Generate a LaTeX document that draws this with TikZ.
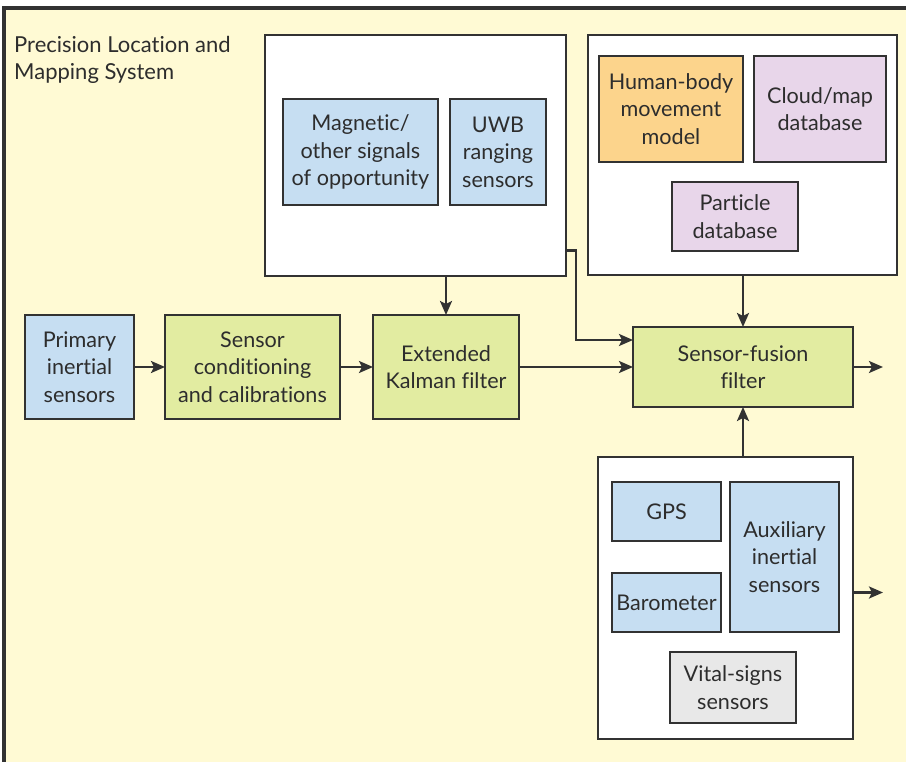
\documentclass[tikz,border=0pt]{standalone}
\usepackage{fontspec}
\setmainfont{Lato}[Ligatures=NoCommon]
\usepackage{tikz}
\usetikzlibrary{arrows.meta,positioning}
\definecolor{fondo}{RGB}{255,250,212}
\definecolor{azulc}{RGB}{198,222,242}
\definecolor{verdec}{RGB}{226,236,161}
\definecolor{naranja}{RGB}{252,212,140}
\definecolor{lila}{RGB}{232,214,234}
\definecolor{grisc}{RGB}{232,232,232}
\definecolor{borde}{RGB}{50,50,50}
\definecolor{texto}{RGB}{45,45,45}
\newcommand{\letra}{\fontsize{21.6}{27.5}\selectfont}
\tikzset{
  bloque/.style={draw=borde, line width=2.8pt, align=center, inner sep=3pt, outer sep=0pt,
    minimum height=104pt, text=texto, font=\letra},
  sens/.style={bloque, fill=azulc},
  proc/.style={bloque, fill=verdec},
  modelo/.style={bloque, fill=naranja},
  base/.style={bloque, fill=lila},
  vital/.style={bloque, fill=grisc},
  grupo/.style={draw=borde, line width=2.8pt, fill=white, outer sep=0pt},
  fl/.style={-{Stealth[length=14pt,width=12pt,inset=3pt]}, line width=2.4pt, draw=borde},
}

\begin{document}
\begin{tikzpicture}[x=1pt, y=1pt]
  \useasboundingbox (0,0) rectangle (906,-762);
  % yellow system frame
  \fill[fondo] (4,-8) rectangle (906,-762);
  \draw[borde, line width=3.2pt] (4,-762) -- (4,-8) -- (906,-8);
  \node[anchor=north west, align=left, text=texto, font=\fontsize{22}{27}\selectfont, inner sep=0pt] (tit) at (14,-36)
    {Precision Location and\\Mapping System};

  % main processing chain
  \node[sens, minimum width=109pt] (pri) at (79.5,-367) {Primary\\inertial\\sensors};
  \node[proc, minimum width=175pt, right=31pt of pri] (acond) {Sensor\\conditioning\\and calibrations};
  \node[proc, minimum width=146pt, right=33pt of acond] (ekf) {Extended\\Kalman filter};
  \node[proc, minimum width=220pt, minimum height=80pt, right=114pt of ekf] (fus) {Sensor-fusion\\filter};

  % signals of opportunity
  \node[grupo, minimum width=301pt, minimum height=241pt] (gmag) at (415.5,-155.5) {};
  \node[sens, minimum width=155pt, minimum height=106pt] (mag) at (360.5,-152) {Magnetic/\\other signals\\of opportunity};
  \node[sens, minimum width=96pt, minimum height=106pt, right=12pt of mag] (uwb) {UWB\\ranging\\sensors};

  % models and databases
  \node[grupo, minimum width=309pt, minimum height=240pt] (gbase) at (742.5,-155) {};
  \node[modelo, minimum width=144pt, minimum height=106pt] (hum) at (671,-109) {Human-body\\movement\\model};
  \node[base, minimum width=132pt, minimum height=106pt, right=11pt of hum] (nube) {Cloud/map\\database};
  \node[base, minimum width=126pt, minimum height=69pt] (part) at (735,-216.5) {Particle\\database};

  % auxiliary sensors
  \node[grupo, minimum width=255pt, minimum height=282pt] (gsens) at (725.5,-598) {};
  \node[sens, minimum width=109pt, minimum height=59pt] (gps) at (666.5,-511.5) {GPS};
  \node[sens, minimum width=109pt, minimum height=59pt, below=32pt of gps] (baro) {Barometer};
  \node[sens, minimum width=109pt, minimum height=150pt, right=9pt of gps.north east, anchor=north west] (aux)
    {Auxiliary\\inertial\\sensors};
  \node[vital, minimum width=126pt, minimum height=71pt] (vit) at (733,-687.5) {Vital-signs\\sensors};

  \coordinate[right=30pt of fus.east] (sal1);
  \coordinate (sal2) at (883,-592.5);

  \draw[fl] (pri) -- (acond);
  \draw[fl] (acond) -- (ekf);
  \draw[fl] (ekf) -- (fus);
  \draw[fl] (gmag.south -| ekf.north) -- (ekf.north);
  \draw[fl] ([yshift=-95pt]gmag.east) -- ++(10,0) |- ([yshift=27pt]fus.west);
  \draw[fl] (gbase.south -| fus.north) -- (fus.north);
  \draw[fl] (gsens.north -| fus.south) -- (fus.south);
  \draw[fl] (fus) -- (sal1);
  \draw[fl] (gsens.east |- sal2) -- (sal2);
\end{tikzpicture}
\end{document}
